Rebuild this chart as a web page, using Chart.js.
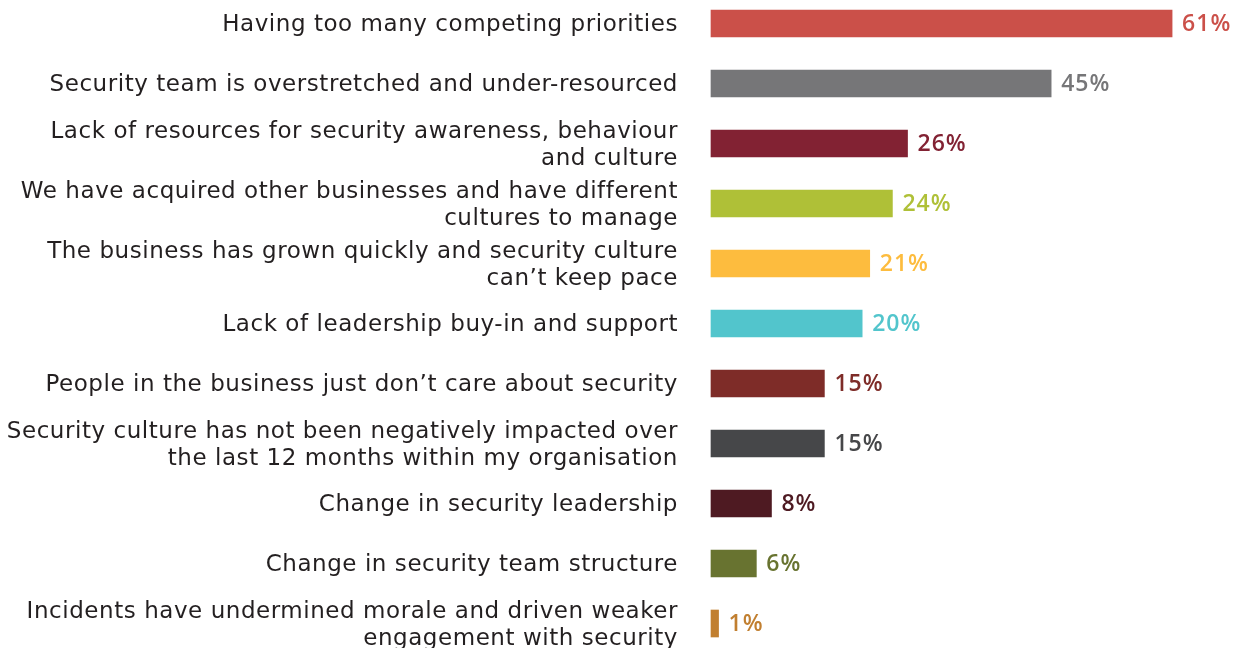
<!DOCTYPE html>
<html>
<head>
<meta charset="utf-8">
<script src="https://cdn.jsdelivr.net/npm/chart.js@4/dist/chart.umd.min.js"></script>
<style>
  html, body { margin: 0; padding: 0; background: #ffffff; }
  #wrap { width: 1234px; height: 648px; position: relative; }
</style>
</head>
<body>
<div id="wrap"><canvas id="chart"></canvas></div>
<script>
// Challenges to security culture (share of respondents, %)
const categories = [
  ["Having too many competing priorities"],
  ["Security team is overstretched and under-resourced"],
  ["Lack of resources for security awareness, behaviour", "and culture"],
  ["We have acquired other businesses and have different", "cultures to manage"],
  ["The business has grown quickly and security culture", "can\u2019t keep pace"],
  ["Lack of leadership buy-in and support"],
  ["People in the business just don\u2019t care about security"],
  ["Security culture has not been negatively impacted over", "the last 12 months within my organisation"],
  ["Change in security leadership"],
  ["Change in security team structure"],
  ["Incidents have undermined morale and driven weaker", "engagement with security"]
];
const values = [61, 45, 26, 24, 21, 20, 15, 15, 8, 6, 1];
const barColors = [
  "#CB5049", "#767678", "#822233", "#AFC037", "#FDBC3E", "#52C5CC",
  "#7E2C28", "#464749", "#4E1A22", "#687330", "#C17F30"
];

// Slightly open tracking for the category names
const labelTracking = {
  id: "labelTracking",
  beforeDraw(chart) { chart.ctx.letterSpacing = "0.55px"; },
  afterDraw(chart) { chart.ctx.letterSpacing = "0px"; }
};

// Writes the percentage just past the end of each bar, in the bar's colour
const valueLabels = {
  id: "valueLabels",
  afterDatasetsDraw(chart) {
    const ctx = chart.ctx;
    const meta = chart.getDatasetMeta(0);
    ctx.save();
    ctx.letterSpacing = "1px";
    ctx.font = "600 23px 'Open Sans', sans-serif";
    ctx.textAlign = "left";
    ctx.textBaseline = "middle";
    meta.data.forEach((bar, i) => {
      ctx.fillStyle = barColors[i];
      ctx.fillText(values[i] + "%", bar.x + 10, bar.y + 1);
    });
    ctx.restore();
  }
};

new Chart(document.getElementById("chart"), {
  type: "bar",
  data: {
    labels: categories,
    datasets: [{
      data: values,
      backgroundColor: barColors,
      borderWidth: 0,
      barThickness: 27,
      clip: false
    }]
  },
  options: {
    indexAxis: "y",
    responsive: true,
    maintainAspectRatio: false,
    animation: false,
    layout: { padding: { top: 23.5, bottom: 24.5, left: 0, right: 9 } },
    plugins: {
      legend: { display: false },
      tooltip: { enabled: false }
    },
    scales: {
      x: {
        min: 0,
        max: 68,
        display: false
      },
      y: {
        offset: false,
        grid: { display: false, drawTicks: false },
        border: { display: false },
        afterFit(scale) {
          scale.width = 711;
          scale.paddingTop = 0;
          scale.paddingBottom = 0;
        },
        ticks: {
          padding: 33,
          labelOffset: 2,
          color: "#231F20",
          font: { family: "'DejaVu Sans', sans-serif", size: 23, lineHeight: 1.21 },
          autoSkip: false
        }
      }
    }
  },
  plugins: [labelTracking, valueLabels]
});
</script>
</body>
</html>
